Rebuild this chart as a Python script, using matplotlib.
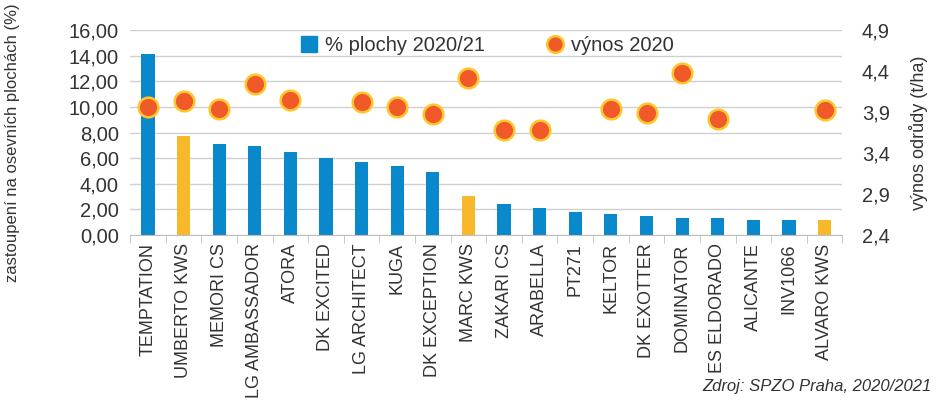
import matplotlib
matplotlib.use("Agg")
import matplotlib.pyplot as plt
from matplotlib.lines import Line2D
import numpy as np

plt.rcParams['font.family'] = ['Liberation Sans', 'DejaVu Sans']

varieties = ["TEMPTATION", "UMBERTO KWS", "MEMORI CS", "LG AMBASSADOR", "ATORA",
             "DK EXCITED", "LG ARCHITECT", "KUGA", "DK EXCEPTION", "MARC KWS",
             "ZAKARI CS", "ARABELLA", "PT271", "KELTOR", "DK EXOTTER",
             "DOMINATOR", "ES ELDORADO", "ALICANTE", "INV1066", "ALVARO KWS"]
share = [14.15, 7.75, 7.1, 6.95, 6.5, 6.0, 5.7, 5.4, 4.92, 3.05,
         2.42, 2.1, 1.8, 1.65, 1.48, 1.33, 1.32, 1.17, 1.17, 1.17]
yield_2020 = [3.96, 4.04, 3.94, 4.24, 4.05, np.nan, 4.02, 3.96, 3.87, 4.31,
              3.68, 3.68, np.nan, 3.94, 3.89, 4.38, 3.82, np.nan, np.nan, 3.92]
highlight = ["UMBERTO KWS", "MARC KWS", "ALVARO KWS"]

blue = "#0a88cc"
yellow = "#f7b82a"
red = "#f05a28"
ring = "#fcc72e"
txt = "#333333"

fig = plt.figure(figsize=(9.36, 4.01), dpi=100)
ax = fig.add_axes([0.139, 0.414, 0.761, 0.511])
ax2 = ax.twinx()

x = np.arange(len(varieties))
colors = [yellow if v in highlight else blue for v in varieties]
ax.bar(x, share, width=0.37, color=colors, zorder=2)
ax.set_ylim(0, 16)
ax.set_yticks(np.arange(0, 17, 2))
ax.set_yticklabels([f"{v:.2f}".replace(".", ",") for v in np.arange(0, 17, 2)])
ax.set_xlim(-0.5, len(varieties) - 0.5)
ax.set_xticks(x)
ax.set_xticklabels(varieties, rotation=90, fontsize=13, color=txt)
ax.set_xticks(np.arange(-0.5, len(varieties)), minor=True)
ax.tick_params(axis='x', which='major', length=0, pad=6)
ax.tick_params(axis='x', which='minor', length=6, color="#bfbfbf")
ax.tick_params(axis='y', length=0, labelsize=14.5, labelcolor=txt, pad=8)
ax.grid(axis='y', color="#d0d0d0", linewidth=1, zorder=0)
for s in ['top', 'right', 'left']:
    ax.spines[s].set_visible(False)
ax.spines['bottom'].set_color("#bfbfbf")

ax2.scatter(x, yield_2020, s=200, color=red, edgecolors=ring, linewidths=1.8, zorder=3)
ax2.set_ylim(2.4, 4.9)
ax2.set_yticks([2.4, 2.9, 3.4, 3.9, 4.4, 4.9])
ax2.set_yticklabels(["2,4", "2,9", "3,4", "3,9", "4,4", "4,9"])
ax2.tick_params(axis='y', length=0, labelsize=14.5, labelcolor=txt, pad=14)
for s in ['top', 'right', 'left', 'bottom']:
    ax2.spines[s].set_visible(False)

ax.set_ylabel("zastoupení na osevních plochách (%)", fontsize=12, color=txt, labelpad=32)
ax.yaxis.set_label_coords(-0.155, 0.45)
ax2.set_ylabel("výnos odrůdy (t/ha)", fontsize=13, color=txt, labelpad=14)

handles = [Line2D([], [], marker='s', linestyle='none', markersize=11, color=blue),
           Line2D([], [], marker='o', linestyle='none', markersize=12,
                  markerfacecolor=red, markeredgecolor=ring, markeredgewidth=1.8)]
ax2.legend(handles, ["% plochy 2020/21", "výnos 2020"], ncol=2, loc='upper center',
           bbox_to_anchor=(0.5, 1.06), frameon=False, fontsize=14.5, columnspacing=3.0,
           handletextpad=0.3, handlelength=1.0, labelcolor=txt)

fig.text(0.995, 0.025, "Zdroj: SPZO Praha, 2020/2021", fontsize=12, style='italic',
         color=txt, ha='right')

fig.savefig("out.png", dpi=100)
